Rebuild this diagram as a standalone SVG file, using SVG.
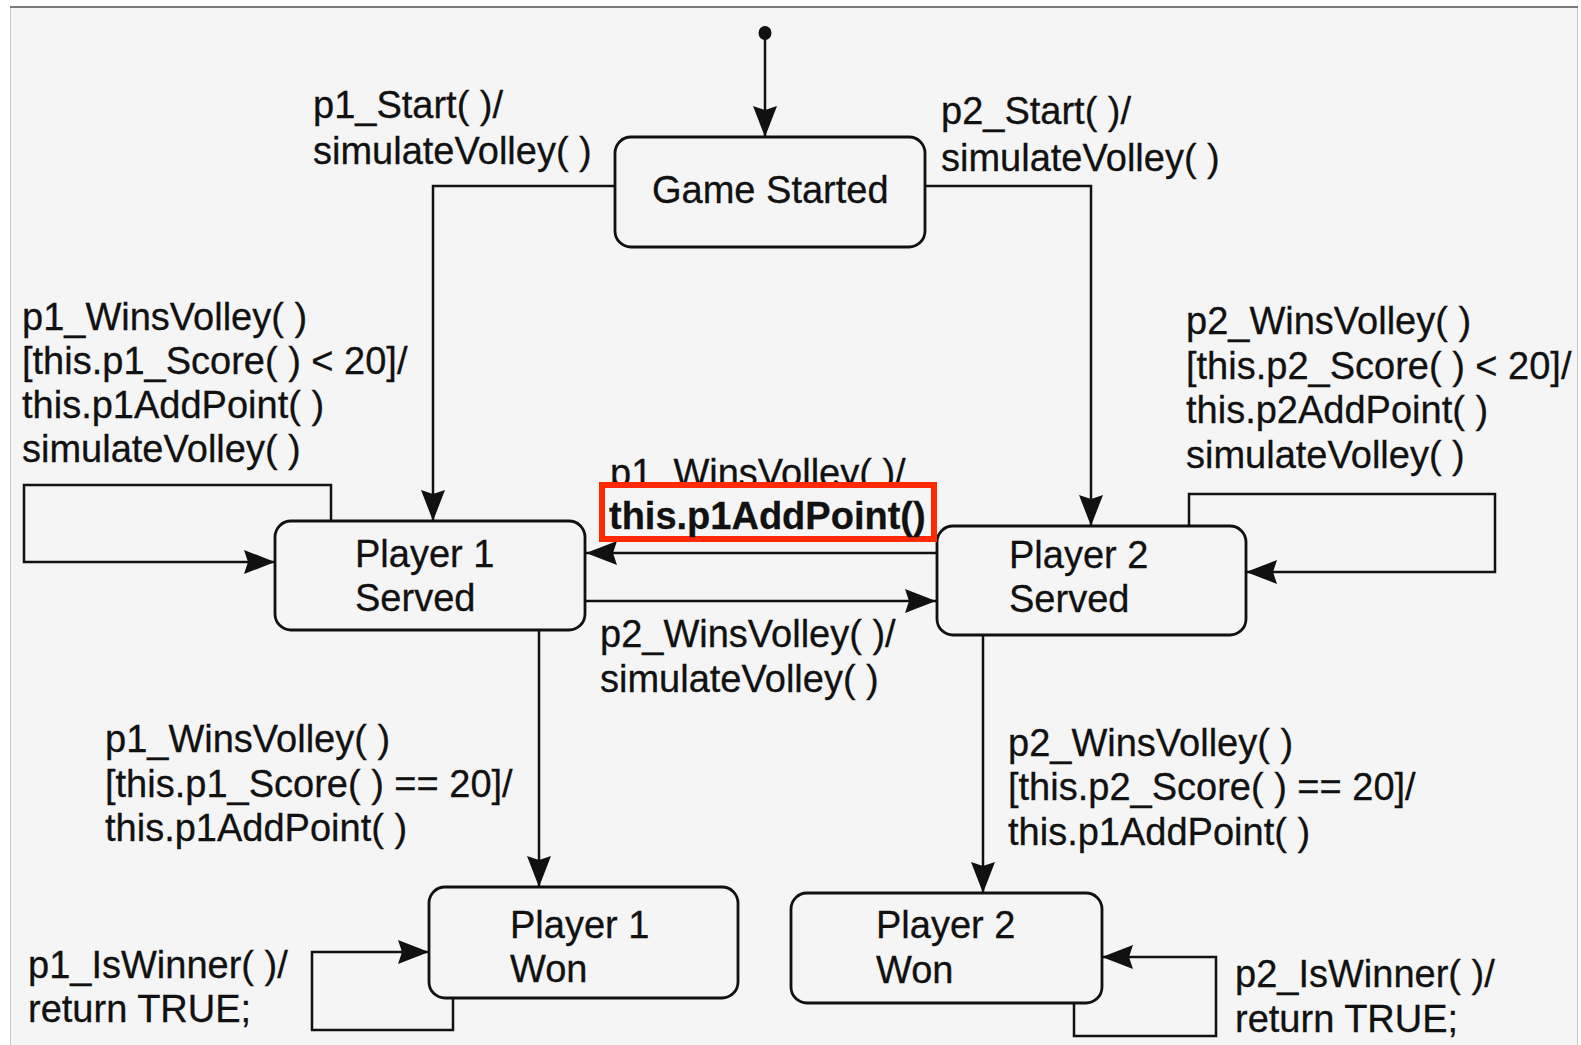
<svg xmlns="http://www.w3.org/2000/svg" width="1581" height="1045" viewBox="0 0 1581 1045">
<defs>
<style>
text{font-family:"Liberation Sans",Arial,Helvetica,sans-serif;font-size:38px;fill:#111;stroke:#111;stroke-width:0.3}
.bold{font-weight:bold}
.state{fill:#f5f5f5;stroke:#111;stroke-width:2.8}
.conn{fill:none;stroke:#111;stroke-width:2.5}
</style>
<marker id="arr" markerUnits="userSpaceOnUse" markerWidth="34" markerHeight="26" refX="31" refY="12" orient="auto">
<path d="M0,0 L31,12 L0,24 L4,12 z" fill="#111"/>
</marker>
</defs>
<rect x="0" y="0" width="1581" height="1045" fill="#ffffff"/>
<rect x="10" y="6" width="1567" height="1045" fill="#f5f5f5"/>
<line x1="10.5" y1="6" x2="10.5" y2="1045" stroke="#c8c8c8" stroke-width="1"/>
<line x1="1577.5" y1="6" x2="1577.5" y2="1045" stroke="#c8c8c8" stroke-width="1"/>
<line x1="10" y1="7" x2="1578" y2="7" stroke="#7a7a7a" stroke-width="2"/>

<g id="connectors">
<ellipse cx="765" cy="33" rx="6.5" ry="7" fill="#111"/>
<path class="conn" d="M765,38 V137" marker-end="url(#arr)"/>
<path class="conn" d="M615,186 H433 V521" marker-end="url(#arr)"/>
<path class="conn" d="M925,186 H1091 V526" marker-end="url(#arr)"/>
<path class="conn" d="M331,521 V485 H24 V562 H275" marker-end="url(#arr)"/>
<path class="conn" d="M1189,526 V494 H1495 V572 H1246" marker-end="url(#arr)"/>
<path class="conn" d="M937,553 H586" marker-end="url(#arr)"/>
<path class="conn" d="M585,601 H936" marker-end="url(#arr)"/>
<path class="conn" d="M539,630 V887" marker-end="url(#arr)"/>
<path class="conn" d="M983,635 V893" marker-end="url(#arr)"/>
<path class="conn" d="M453,998 V1030 H312 V952 H429" marker-end="url(#arr)"/>
<path class="conn" d="M1074,1003 V1036 H1216 V957 H1102" marker-end="url(#arr)"/>
</g>

<g id="game-started">
<rect class="state" x="615" y="137" width="310" height="110" rx="16"/>
<text x="652" y="203">Game Started</text>
</g>
<g id="player1-served">
<rect class="state" x="275" y="521" width="310" height="109" rx="16"/>
<text x="355" y="567">Player 1</text>
<text x="355" y="611">Served</text>
</g>
<g id="player2-served">
<rect class="state" x="937" y="526" width="309" height="109" rx="16"/>
<text x="1009" y="568">Player 2</text>
<text x="1009" y="612">Served</text>
</g>
<g id="player1-won">
<rect class="state" x="429" y="887" width="309" height="111" rx="16"/>
<text x="510" y="938">Player 1</text>
<text x="510" y="982">Won</text>
</g>
<g id="player2-won">
<rect class="state" x="791" y="893" width="311" height="110" rx="16"/>
<text x="876" y="938">Player 2</text>
<text x="876" y="983">Won</text>
</g>

<g id="labels">
<text x="313" y="118">p1_Start( )/</text>
<text x="313" y="164">simulateVolley( )</text>
<text x="941" y="124">p2_Start( )/</text>
<text x="941" y="171">simulateVolley( )</text>
<text x="22" y="330">p1_WinsVolley( )</text>
<text x="22" y="374">[this.p1_Score( ) &lt; 20]/</text>
<text x="22" y="418">this.p1AddPoint( )</text>
<text x="22" y="462">simulateVolley( )</text>
<text x="1186" y="334">p2_WinsVolley( )</text>
<text x="1186" y="379">[this.p2_Score( ) &lt; 20]/</text>
<text x="1186" y="423">this.p2AddPoint( )</text>
<text x="1186" y="468">simulateVolley( )</text>
<text x="610" y="486">p1_WinsVolley( )/</text>
<rect x="602" y="485" width="332" height="54" fill="#f5f5f5" stroke="#ff2a00" stroke-width="6"/>
<text class="bold" x="609" y="529">this.p1AddPoint()</text>
<text x="600" y="647">p2_WinsVolley( )/</text>
<text x="600" y="692">simulateVolley( )</text>
<text x="105" y="752">p1_WinsVolley( )</text>
<text x="105" y="797">[this.p1_Score( ) == 20]/</text>
<text x="105" y="841">this.p1AddPoint( )</text>
<text x="1008" y="756">p2_WinsVolley( )</text>
<text x="1008" y="800">[this.p2_Score( ) == 20]/</text>
<text x="1008" y="845">this.p1AddPoint( )</text>
<text x="28" y="978">p1_IsWinner( )/</text>
<text x="28" y="1022">return TRUE;</text>
<text x="1235" y="987">p2_IsWinner( )/</text>
<text x="1235" y="1032">return TRUE;</text>
</g>
</svg>
